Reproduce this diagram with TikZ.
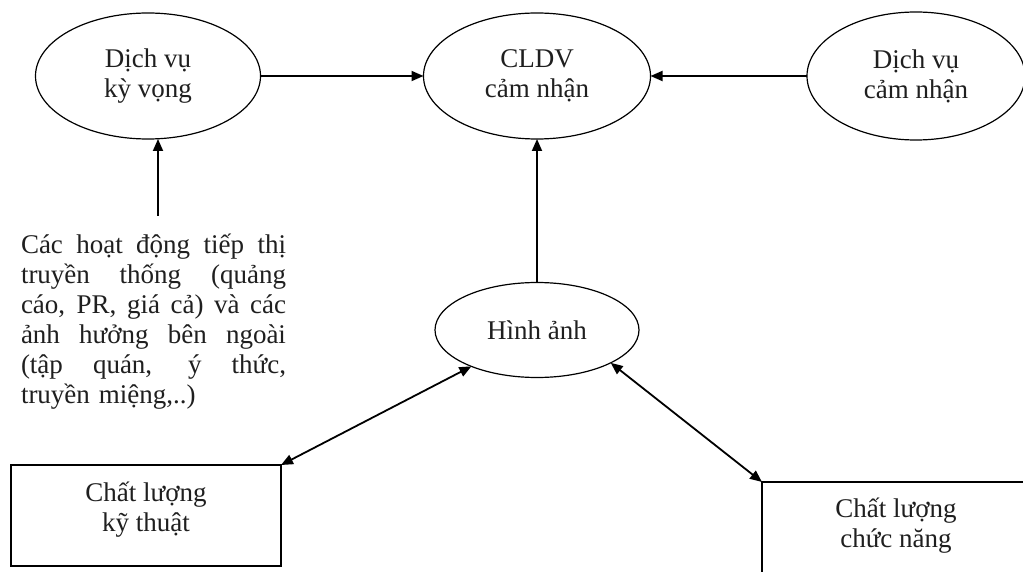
\documentclass[tikz,border=0pt]{standalone}
\usepackage{fontspec}
\setmainfont{Liberation Serif}
\usetikzlibrary{shapes.geometric,arrows.meta}
\newcommand{\jline}[1]{\makebox[265pt][s]{\spaceskip=0pt\xspaceskip=0pt #1}}
\begin{document}
\begin{tikzpicture}[x=1pt,y=-1pt,
  txt/.style={font=\fontsize{27}{30}\selectfont,text=black!88},
  oval/.style={txt,draw,ellipse,line width=1.2pt,inner sep=0pt,outer sep=0pt,align=center},
  box/.style={draw,rectangle,line width=1.4pt,inner sep=0pt,outer sep=0pt},
  arr/.style={line width=1.8pt,-{Triangle[length=12pt,width=10pt]}},
  darr/.style={line width=1.8pt,{Triangle[length=12pt,width=10pt]}-{Triangle[length=12pt,width=10pt]}}]
\useasboundingbox (0,0) rectangle (1023,572);
\fill[white] (0,0) rectangle (1023,572);
% ellipses
\node[oval,minimum width=225pt,minimum height=126pt] (kv) at (148,76) {Dịch vụ\\kỳ vọng};
\node[oval,minimum width=227pt,minimum height=126pt] (cl) at (537,76) {CLDV\\cảm nhận};
\node[oval,minimum width=218pt,minimum height=128pt] (dv) at (916,76) {Dịch vụ\\cảm nhận};
\node[oval,minimum width=204pt,minimum height=95pt] (ha) at (537,330) {Hình ảnh};
% rectangles
\node[box,anchor=north west,minimum width=270pt,minimum height=101pt] (kt) at (11,465) {};
\node[txt,align=center] (ktt) at ([yshift=6pt]kt.center) {Chất lượng\\kỹ thuật};
\node[box,anchor=north west,minimum width=272pt,minimum height=101pt] (ch) at (762,482) {};
\node[txt,align=center] (cht) at ([xshift=-2pt,yshift=7pt]ch.center) {Chất lượng\\chức năng};
% text block
\node[txt,align=left,text width=265pt,inner sep=0pt] (ext) at (153.5,322)
  {\jline{Các hoạt động tiếp thị}\\
   \jline{truyền thống (quảng}\\
   \jline{cáo, PR, giá cả) và các}\\
   \jline{ảnh hưởng bên ngoài}\\
   \jline{(tập quán, ý thức,}\\
   truyền miệng,..)};
\coordinate (ea) at (158,216);
% connectors
\draw[arr] (ea) -- (ea |- kv.south);
\draw[arr] (kv.east) -- (cl.west);
\draw[arr] (dv.west) -- (cl.east);
\draw[arr] (ha.north) -- (cl.south);
\draw[darr] (kt.north east) -- (ha.-151);
\draw[darr] (ch.north west) -- (ha.-24);
\end{tikzpicture}
\end{document}
